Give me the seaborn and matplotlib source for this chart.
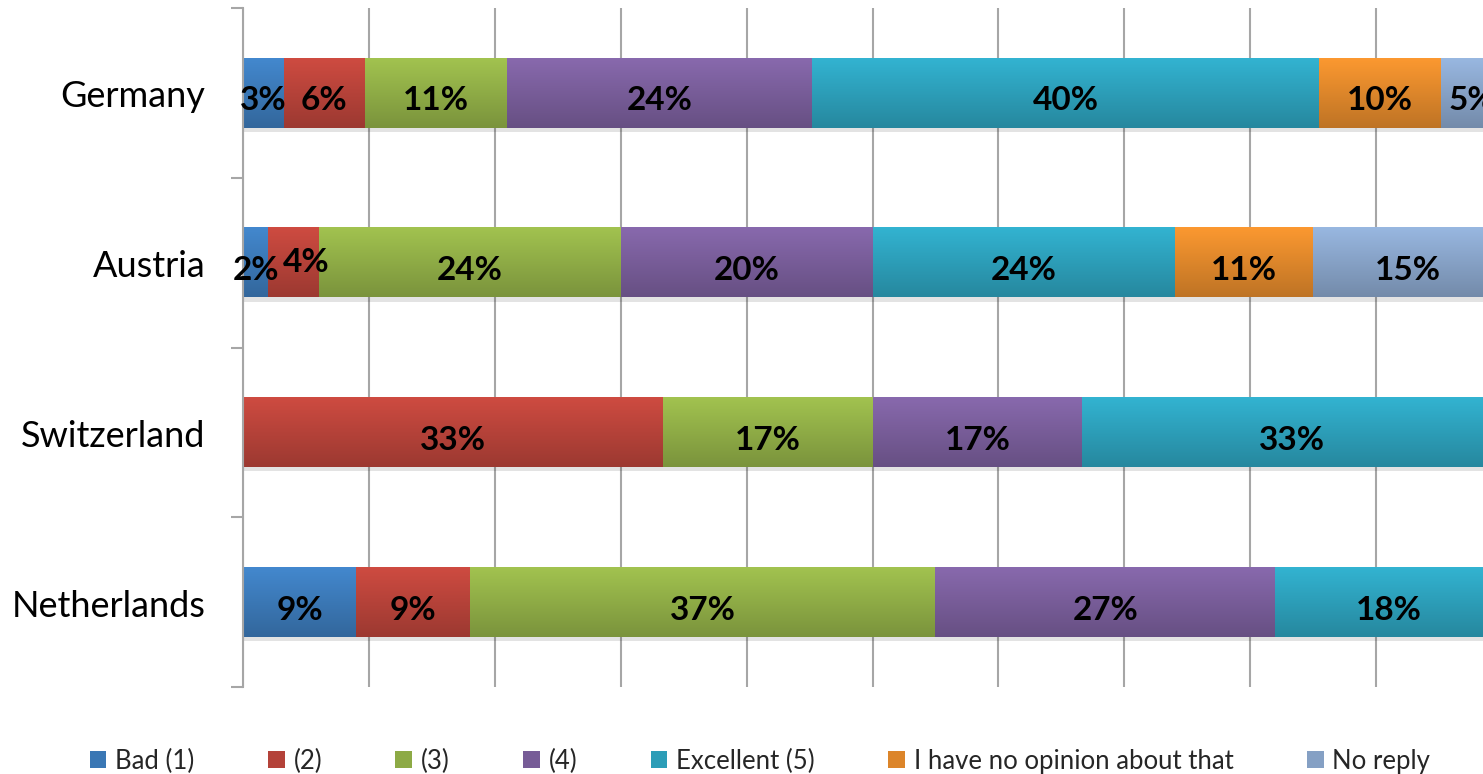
import numpy as np
import pandas as pd
import matplotlib
matplotlib.use("Agg")
import matplotlib.pyplot as plt
import matplotlib.colors as mcolors
import matplotlib.patheffects as pe
import matplotlib.transforms as mtransforms
from matplotlib.patches import Patch
import seaborn as sns

# Survey answers per country, in percent of respondents
countries = ["Germany", "Austria", "Switzerland", "Netherlands"]
series = ["Bad (1)", "(2)", "(3)", "(4)", "Excellent (5)",
          "I have no opinion about that", "No reply"]
bad = [3.23, 2.0, 0.0, 9.0]
two = [6.45, 4.0, 33.33, 9.0]
three = [11.29, 24.0, 16.67, 37.0]
four = [24.19, 20.0, 16.67, 27.0]
excellent = [40.32, 24.0, 33.33, 18.0]
no_opinion = [9.68, 11.0, 0.0, 0.0]
no_reply = [4.84, 15.0, 0.0, 0.0]

colors = ["#4184C8", "#C8493F", "#9DBD4D", "#8466A8", "#31AECB", "#F4942F", "#94B2DA"]

values = [bad, two, three, four, excellent, no_opinion, no_reply]

sns.set_theme(style="white")
plt.rcParams["font.family"] = ["Lato", "DejaVu Sans"]

fig = plt.figure(figsize=(14.83, 7.74), dpi=100)
ax = fig.add_axes([243 / 1483, 87 / 774, 1259 / 1483, 679 / 774])

grid_color = "#A6A6A6"
ax.set_axisbelow(True)
ax.grid(axis="x", color=grid_color, linewidth=1.5)
ax.grid(axis="y", visible=False)

left = np.zeros(len(countries))
prev = np.full(len(countries), np.nan)
shadow = [pe.SimplePatchShadow(offset=(0, -3), shadow_rgbFace="k", alpha=0.12), pe.Normal()]
for name, vals, col in zip(series, values, colors):
    df = pd.DataFrame({"country": countries, "pct": vals})
    n_before = len(ax.patches)
    sns.barplot(data=df, x="pct", y="country", orient="h", left=left,
                color=col, saturation=1, width=0.41, ax=ax, linewidth=0,
                zorder=2)
    new_patches = ax.patches[n_before:]
    rgb = np.array(mcolors.to_rgb(col))
    t = np.linspace(0, 1, 64)[:, None]
    top = np.clip(rgb * 1.03, 0, 1)
    bottom = rgb * 0.78
    grad = (top * (1 - t) + bottom * t)[:, None, :]
    for p in new_patches:
        w = p.get_width()
        if w <= 0:
            p.set_visible(False)
            continue
        p.set_path_effects(shadow)
        x0, y0, h = p.get_x(), p.get_y(), p.get_height()
        ax.imshow(grad, extent=(x0, x0 + w, y0 + h, y0), aspect="auto",
                  interpolation="bilinear", zorder=2.1)
    for i, v in enumerate(vals):
        if v > 0:
            # nudge a narrow label that would collide with a narrow neighbour
            crowded = v < 5 and prev[i] < 5
            dx, dy = (9, -6.5) if crowded else (0, -12.6)
            ax.annotate(f"{v:.0f}%", (left[i] + v / 2, i), xytext=(dx, dy),
                        textcoords="offset points", ha="center", va="baseline",
                        fontsize=24, fontweight="bold", color="black", zorder=5)
            prev[i] = v
    left = left + np.array(vals)

ax.set_xlim(0, 100)
ax.set_ylim(len(countries) - 0.5, -0.5)
ax.set_xticks(np.arange(0, 101, 10))
ax.set_xticklabels([])
ax.tick_params(axis="x", length=0)
ax.set_xlabel("")
ax.set_ylabel("")

# category labels at the centres, tick marks at the category boundaries
ax.set_yticks(range(len(countries)))
ax.set_yticklabels(countries, fontsize=26, color="black")
ax.tick_params(axis="y", which="major", length=0, pad=27)
shift = mtransforms.ScaledTranslation(0, -0.145, fig.dpi_scale_trans)
for lbl in ax.get_yticklabels():
    lbl.set_va("baseline")
    lbl.set_transform(lbl.get_transform() + shift)
ax.set_yticks(np.arange(-0.5, len(countries)), minor=True)
ax.tick_params(axis="y", which="minor", left=True, length=9, width=1.5, color=grid_color)

for s in ["top", "right", "bottom"]:
    ax.spines[s].set_visible(False)
ax.spines["left"].set_color(grid_color)
ax.spines["left"].set_linewidth(1.5)
ax.spines["left"].set_zorder(3)

handles = [Patch(facecolor=mcolors.to_hex(np.array(mcolors.to_rgb(c)) * 0.9), edgecolor="none")
           for c in colors]
fig.legend(handles, series, loc="center", bbox_to_anchor=(760 / 1483, 1 - 761 / 774),
           ncol=7, frameon=False, fontsize=18.5, handlelength=0.65, handleheight=0.65,
           handletextpad=0.35, columnspacing=2.85)

fig.savefig("out.png", dpi=100)
